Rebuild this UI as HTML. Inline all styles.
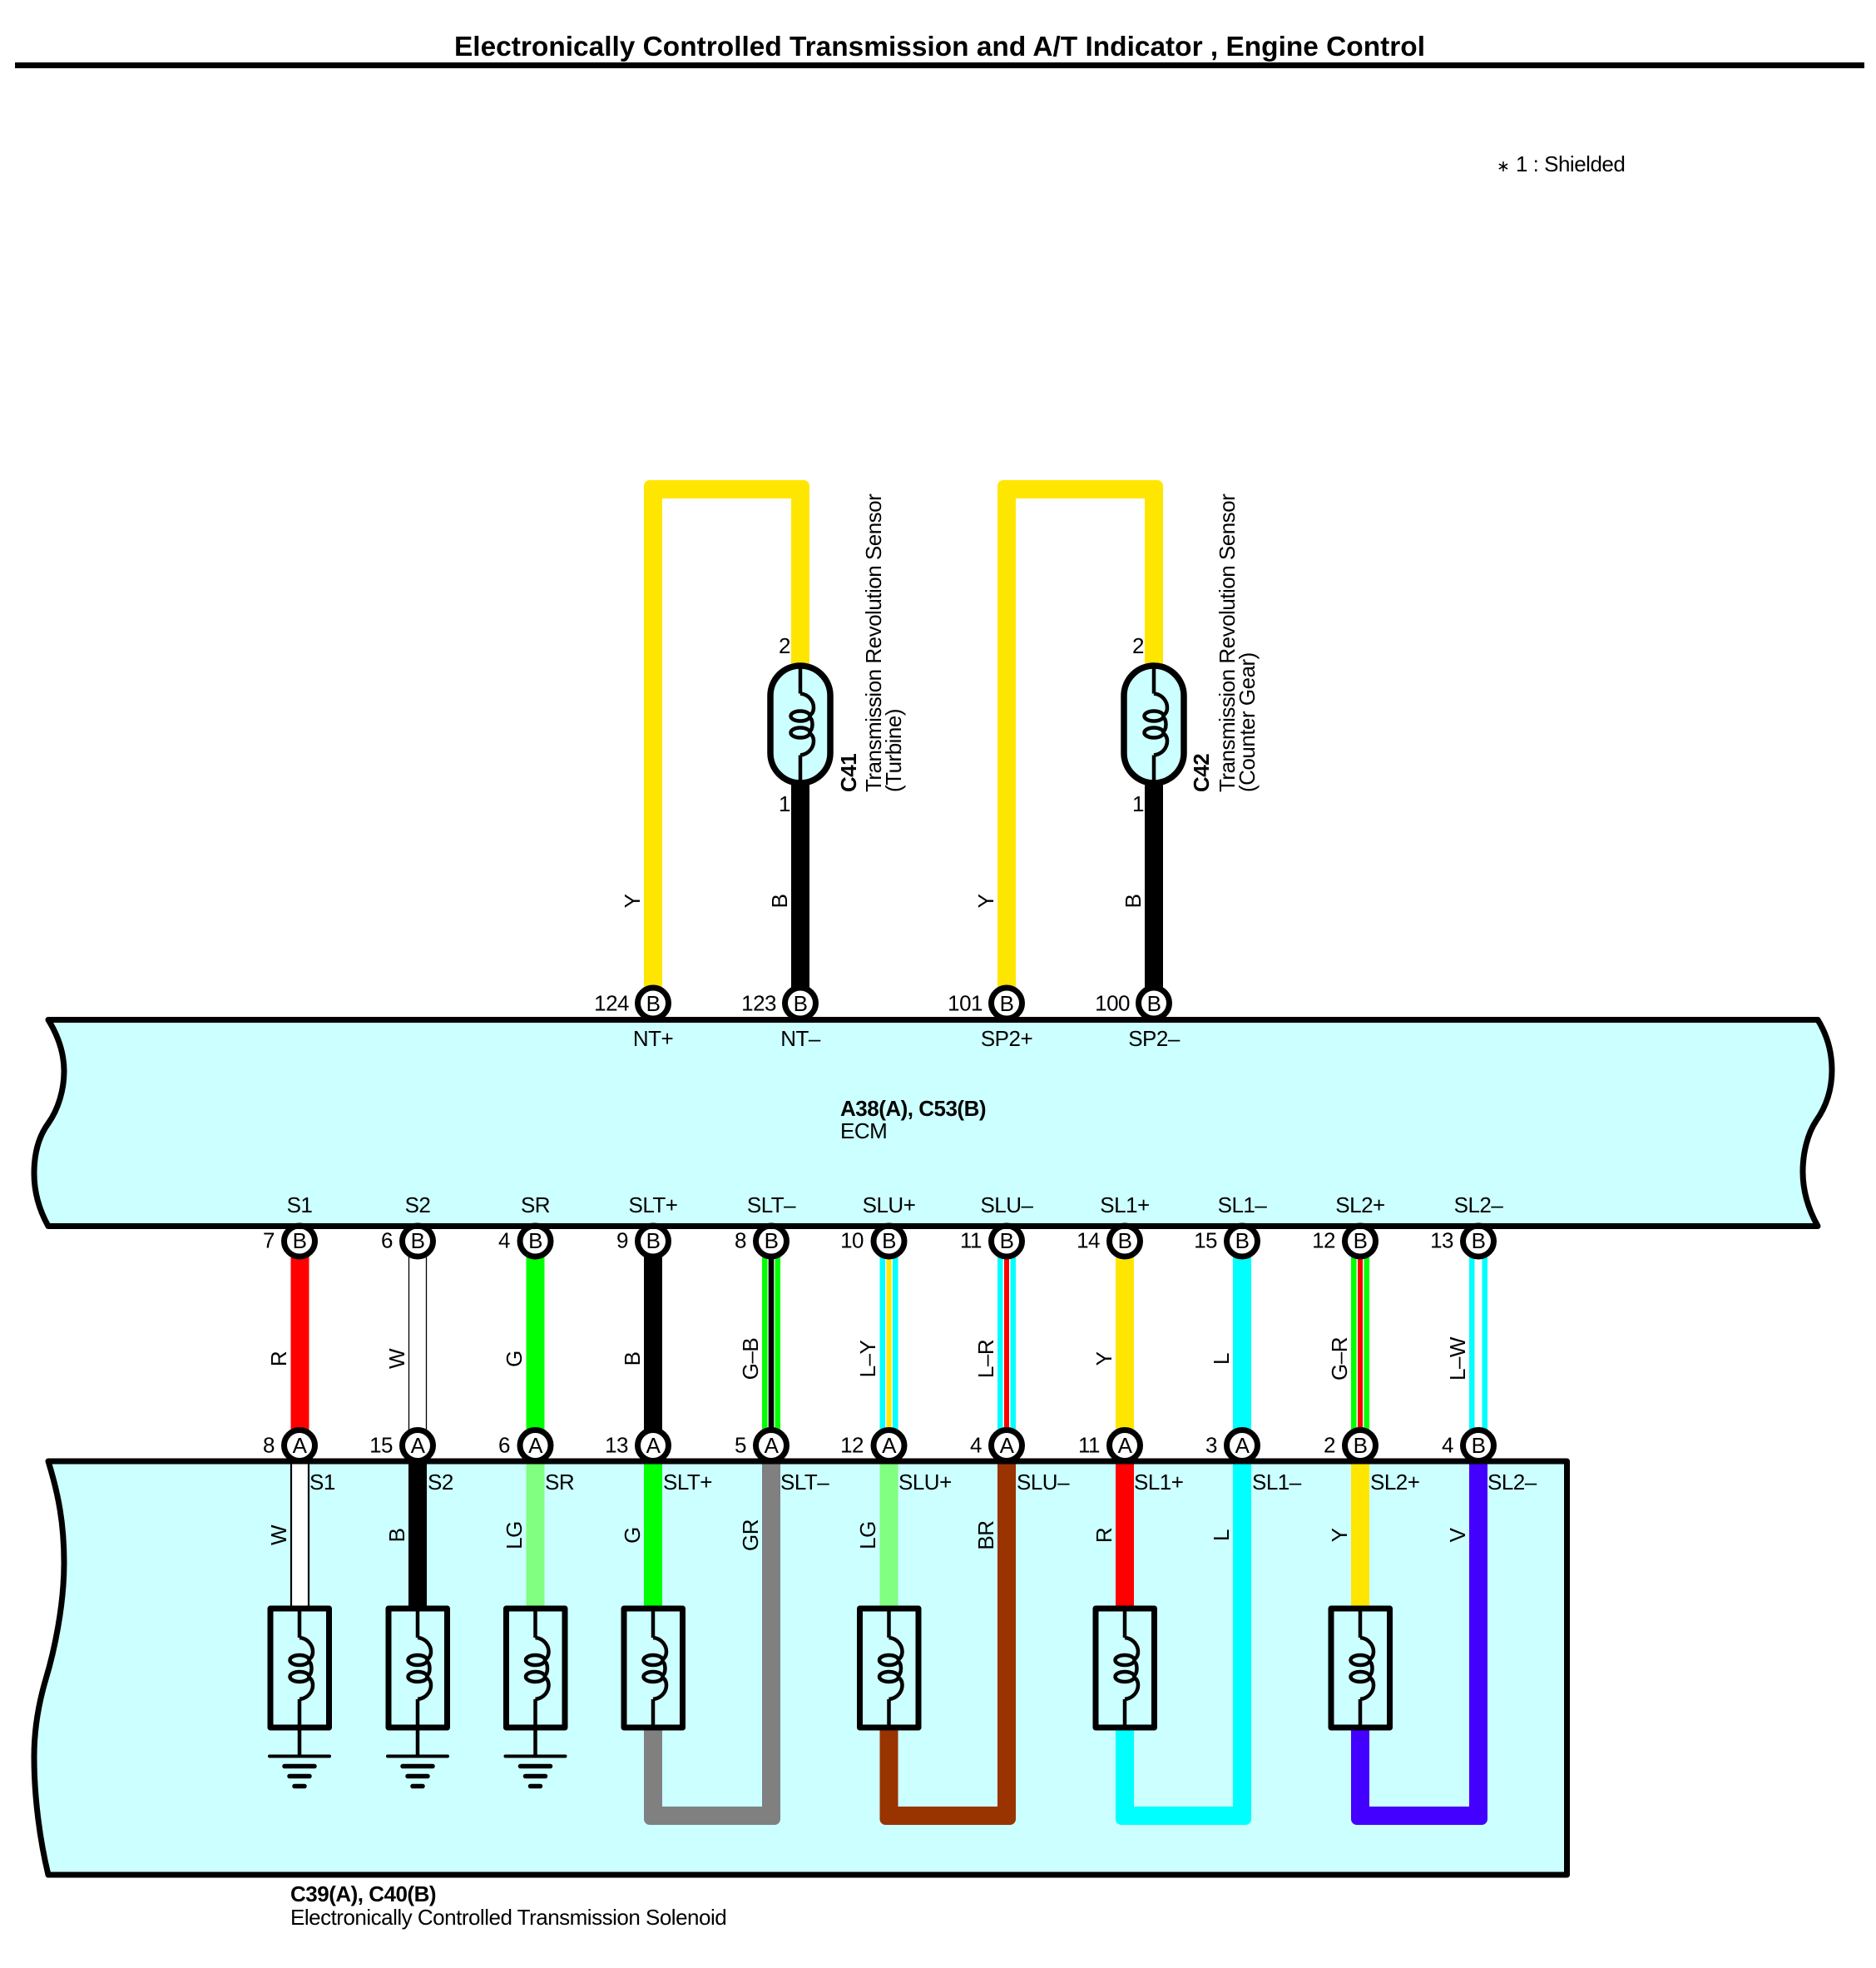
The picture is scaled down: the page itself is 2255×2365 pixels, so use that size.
<!DOCTYPE html>
<html><head><meta charset="utf-8"><title>Electronically Controlled Transmission and A/T Indicator, Engine Control</title>
<style>
html,body{margin:0;padding:0;background:#fff}
svg{display:block}
text{font-family:"Liberation Sans",sans-serif;font-size:26px;letter-spacing:-.5px;fill:#000}
.m{text-anchor:middle}.e{text-anchor:end}.b{font-weight:bold}
</style></head><body>
<svg width="2255" height="2365" viewBox="0 0 2255 2365" xmlns="http://www.w3.org/2000/svg">
<defs>
<g id="coil" fill="none" stroke="#000" stroke-width="4.500">
<path d="M0 -37C10 -36 16 -28 16 -20C16 -15 14 -12 10 -10M10 -10C16 -6 16 6 10 10M10 10C14 12 16 15 16 20C16 28 10 36 0 37"/>
<ellipse cx="0" cy="-10" rx="11.500" ry="6"/><ellipse cx="0" cy="10" rx="11.500" ry="6"/>
</g>
<g id="sol">
<rect x="-35" y="-72" width="70.500" height="143" fill="#ccffff" stroke="#000" stroke-width="7" stroke-linejoin="round"/>
<path d="M0 -72V-37M0 37V72" stroke="#000" stroke-width="4.500" fill="none"/>
<use href="#coil"/>
</g>
<g id="gnd" stroke="#000" stroke-linecap="round" fill="none">
<path d="M0 0V34" stroke-width="4.500"/>
<path d="M-36 34.500H36" stroke-width="4"/>
<path d="M-18 46.500H18" stroke-width="5.500"/>
<path d="M-12 58.500H12" stroke-width="5.500"/>
<path d="M-6 70.500H6" stroke-width="5.500"/>
</g>
<g id="sen">
<rect x="-36" y="-70.500" width="72" height="141" rx="36" ry="36" fill="#ccffff" stroke="#000" stroke-width="7.500"/>
<path d="M0 -73V-37M0 37V73" stroke="#000" stroke-width="4.500" fill="none"/>
<use href="#coil"/>
</g>
</defs>

<!-- title -->
<text class="b" x="546" y="67" style="font-size:33px;letter-spacing:0" textLength="1167" lengthAdjust="spacingAndGlyphs">Electronically Controlled Transmission and A/T Indicator , Engine Control</text>
<rect x="18" y="75" width="2223" height="7" fill="#000"/>
<text x="1799" y="206" style="font-size:19px">∗</text>
<text x="1822" y="206">1 : Shielded</text>

<!-- boxes -->
<path d="M58 1225.500H2185C2197 1245 2202 1265 2202 1286C2202 1310 2195 1330 2183 1347C2173 1362 2167 1385 2167 1408C2167 1430 2173 1452 2185 1473.500H58C46 1452 41 1430 41 1410C41 1385 47 1365 58 1350C70 1333 77 1310 77 1287C77 1265 70 1245 58 1225.500Z" fill="#ccffff" stroke="#000" stroke-width="7" stroke-linejoin="round"/>
<path d="M58 1756H1883.500V2253H58C48 2212 41 2160 41 2111C41 2075 47 2045 55 2018C65 1985 77 1930 77 1878C77 1830 70 1795 58 1756Z" fill="#ccffff" stroke="#000" stroke-width="7" stroke-linejoin="round"/>

<!-- top loops -->
<path d="M774 1205V584a7 7 0 0 1 7 -7H966a7 7 0 0 1 7 7V800H951V599H796V1205Z" fill="#ffe600"/>
<path d="M1199 1205V584a7 7 0 0 1 7 -7H1391a7 7 0 0 1 7 7V800H1376V599H1221V1205Z" fill="#ffe600"/>
<rect x="951" y="940" width="22" height="265" fill="#000"/>
<rect x="1376" y="940" width="22" height="265" fill="#000"/>
<use href="#sen" x="962" y="870.500"/>
<use href="#sen" x="1387" y="870.500"/>

<!-- middle wires -->
<rect x="349.500" y="1492" width="22" height="245" fill="#f00"/>
<rect x="491.500" y="1492" width="21" height="245" fill="#fff" stroke="#000" stroke-width="1.300"/>
<rect x="632.500" y="1492" width="22" height="245" fill="#0f0"/>
<rect x="774" y="1492" width="22" height="245" fill="#000"/>
<rect x="916" y="1492" width="22" height="245" fill="#0f0"/><rect x="922.500" y="1492" width="9" height="245" fill="#fff"/><rect x="923.700" y="1492" width="6.600" height="245" fill="#000"/>
<rect x="1057.500" y="1492" width="22" height="245" fill="#0ff"/><rect x="1064" y="1492" width="9" height="245" fill="#fff"/><rect x="1065.500" y="1492" width="6" height="245" fill="#ffe600"/>
<rect x="1199" y="1492" width="22" height="245" fill="#0ff"/><rect x="1205.500" y="1492" width="9" height="245" fill="#fff"/><rect x="1207" y="1492" width="6" height="245" fill="#f00"/>
<rect x="1341" y="1492" width="22" height="245" fill="#ffe600"/>
<rect x="1482" y="1492" width="22" height="245" fill="#0ff"/>
<rect x="1624" y="1492" width="22" height="245" fill="#0f0"/><rect x="1630.500" y="1492" width="9" height="245" fill="#fff"/><rect x="1632" y="1492" width="6" height="245" fill="#f00"/>
<rect x="1766" y="1492" width="22" height="245" fill="#0ff"/><rect x="1772.500" y="1492" width="9" height="245" fill="#fff"/>

<!-- lower wires -->
<rect x="350" y="1756" width="21" height="180" fill="#fff" stroke="#000" stroke-width="2.200"/>
<rect x="491" y="1756" width="22" height="180" fill="#000"/>
<rect x="632.500" y="1756" width="22" height="180" fill="#80ff80"/>
<rect x="774" y="1756" width="22" height="180" fill="#0f0"/>
<rect x="1057.500" y="1756" width="22" height="180" fill="#80ff80"/>
<rect x="1341" y="1756" width="22" height="180" fill="#f00"/>
<rect x="1624" y="1756" width="22" height="180" fill="#ffe600"/>
<!-- loops -->
<path d="M774 2070V2186a7 7 0 0 0 7 7H931a7 7 0 0 0 7 -7V1756H916V2171H796V2070Z" fill="#808080"/>
<path d="M1057.500 2070V2186a7 7 0 0 0 7 7H1214a7 7 0 0 0 7 -7V1756H1199V2171H1079.500V2070Z" fill="#993300"/>
<path d="M1341 2070V2186a7 7 0 0 0 7 7H1497a7 7 0 0 0 7 -7V1756H1482V2171H1363V2070Z" fill="#0ff"/>
<path d="M1624 2070V2186a7 7 0 0 0 7 7H1781a7 7 0 0 0 7 -7V1756H1766V2171H1646V2070Z" fill="#4400ff"/>

<!-- solenoids -->
<use href="#gnd" x="360" y="2076"/><use href="#gnd" x="502" y="2076"/><use href="#gnd" x="643.500" y="2076"/>
<use href="#sol" x="360" y="2005"/><use href="#sol" x="502" y="2005"/><use href="#sol" x="643.500" y="2005"/><use href="#sol" x="785" y="2005"/><use href="#sol" x="1068.500" y="2005"/><use href="#sol" x="1352" y="2005"/><use href="#sol" x="1635" y="2005"/>

<!-- pins -->
<g fill="#fff" stroke="#000" stroke-width="7">
<circle cx="785" cy="1205.500" r="18.500"/><circle cx="962" cy="1205.500" r="18.500"/><circle cx="1210" cy="1205.500" r="18.500"/><circle cx="1387" cy="1205.500" r="18.500"/>
<circle cx="360" cy="1491.500" r="18.500"/><circle cx="502" cy="1491.500" r="18.500"/><circle cx="643.500" cy="1491.500" r="18.500"/><circle cx="785" cy="1491.500" r="18.500"/><circle cx="927" cy="1491.500" r="18.500"/><circle cx="1068.500" cy="1491.500" r="18.500"/><circle cx="1210" cy="1491.500" r="18.500"/><circle cx="1352" cy="1491.500" r="18.500"/><circle cx="1493" cy="1491.500" r="18.500"/><circle cx="1635" cy="1491.500" r="18.500"/><circle cx="1777" cy="1491.500" r="18.500"/>
<circle cx="360" cy="1737" r="18.500"/><circle cx="502" cy="1737" r="18.500"/><circle cx="643.500" cy="1737" r="18.500"/><circle cx="785" cy="1737" r="18.500"/><circle cx="927" cy="1737" r="18.500"/><circle cx="1068.500" cy="1737" r="18.500"/><circle cx="1210" cy="1737" r="18.500"/><circle cx="1352" cy="1737" r="18.500"/><circle cx="1493" cy="1737" r="18.500"/><circle cx="1635" cy="1737" r="18.500"/><circle cx="1777" cy="1737" r="18.500"/>
</g>
<!-- bus lines over pins -->
<rect x="58" y="1222" width="2127" height="7" fill="#000"/>
<rect x="58" y="1470" width="2127" height="7" fill="#000"/>
<rect x="58" y="1752.500" width="1825" height="7" fill="#000"/>

<!-- pin letters -->
<g>
<text class="m" x="785" y="1215">B</text><text class="m" x="962" y="1215">B</text><text class="m" x="1210" y="1215">B</text><text class="m" x="1387" y="1215">B</text>
<text class="m" x="360" y="1500">B</text><text class="m" x="502" y="1500">B</text><text class="m" x="643.500" y="1500">B</text><text class="m" x="785" y="1500">B</text><text class="m" x="927" y="1500">B</text><text class="m" x="1068.500" y="1500">B</text><text class="m" x="1210" y="1500">B</text><text class="m" x="1352" y="1500">B</text><text class="m" x="1493" y="1500">B</text><text class="m" x="1635" y="1500">B</text><text class="m" x="1777" y="1500">B</text>
<text class="m" x="360" y="1746">A</text><text class="m" x="502" y="1746">A</text><text class="m" x="643.500" y="1746">A</text><text class="m" x="785" y="1746">A</text><text class="m" x="927" y="1746">A</text><text class="m" x="1068.500" y="1746">A</text><text class="m" x="1210" y="1746">A</text><text class="m" x="1352" y="1746">A</text><text class="m" x="1493" y="1746">A</text><text class="m" x="1635" y="1746">B</text><text class="m" x="1777" y="1746">B</text>
</g>

<!-- pin numbers -->
<text class="e" x="756" y="1214.500">124</text><text class="e" x="933" y="1214.500">123</text><text class="e" x="1181" y="1214.500">101</text><text class="e" x="1358" y="1214.500">100</text>
<text class="e" x="330" y="1499.500">7</text><text class="e" x="472" y="1499.500">6</text><text class="e" x="613" y="1499.500">4</text><text class="e" x="755" y="1499.500">9</text><text class="e" x="897" y="1499.500">8</text><text class="e" x="1038" y="1499.500">10</text><text class="e" x="1180" y="1499.500">11</text><text class="e" x="1322" y="1499.500">14</text><text class="e" x="1463" y="1499.500">15</text><text class="e" x="1605" y="1499.500">12</text><text class="e" x="1747" y="1499.500">13</text>
<text class="e" x="330" y="1745.500">8</text><text class="e" x="472" y="1745.500">15</text><text class="e" x="613" y="1745.500">6</text><text class="e" x="755" y="1745.500">13</text><text class="e" x="897" y="1745.500">5</text><text class="e" x="1038" y="1745.500">12</text><text class="e" x="1180" y="1745.500">4</text><text class="e" x="1322" y="1745.500">11</text><text class="e" x="1463" y="1745.500">3</text><text class="e" x="1605" y="1745.500">2</text><text class="e" x="1747" y="1745.500">4</text>
<text class="e" x="950" y="785">2</text><text class="e" x="950" y="975">1</text><text class="e" x="1375" y="785">2</text><text class="e" x="1375" y="975">1</text>

<!-- ECM terminal labels -->
<text class="m" x="785" y="1257">NT+</text><text class="m" x="962" y="1257">NT–</text><text class="m" x="1210" y="1257">SP2+</text><text class="m" x="1387" y="1257">SP2–</text>
<text class="m" x="360" y="1457">S1</text><text class="m" x="502" y="1457">S2</text><text class="m" x="643.500" y="1457">SR</text><text class="m" x="785" y="1457">SLT+</text><text class="m" x="927" y="1457">SLT–</text><text class="m" x="1068.500" y="1457">SLU+</text><text class="m" x="1210" y="1457">SLU–</text><text class="m" x="1352" y="1457">SL1+</text><text class="m" x="1493" y="1457">SL1–</text><text class="m" x="1635" y="1457">SL2+</text><text class="m" x="1777" y="1457">SL2–</text>

<!-- solenoid terminal labels -->
<text x="372" y="1790">S1</text><text x="514" y="1790">S2</text><text x="655" y="1790">SR</text><text x="797" y="1790">SLT+</text><text x="938" y="1790">SLT–</text><text x="1080" y="1790">SLU+</text><text x="1222" y="1790">SLU–</text><text x="1363" y="1790">SL1+</text><text x="1505" y="1790">SL1–</text><text x="1647" y="1790">SL2+</text><text x="1788" y="1790">SL2–</text>

<!-- component labels -->
<text class="b" x="1010" y="1341">A38(A), C53(B)</text>
<text x="1010" y="1368">ECM</text>
<text class="b" x="349" y="2285">C39(A), C40(B)</text>
<text x="349" y="2313">Electronically Controlled Transmission Solenoid</text>
<text class="b" transform="translate(1029 952) rotate(-90)">C41</text>
<text transform="translate(1059 952) rotate(-90)">Transmission Revolution Sensor</text>
<text transform="translate(1083 952) rotate(-90)">(Turbine)</text>
<text class="b" transform="translate(1453 952) rotate(-90)">C42</text>
<text transform="translate(1484 952) rotate(-90)">Transmission Revolution Sensor</text>
<text transform="translate(1508 952) rotate(-90)">(Counter Gear)</text>

<!-- wire colour labels -->
<text class="m" transform="translate(769 1083) rotate(-90)">Y</text>
<text class="m" transform="translate(946 1083) rotate(-90)">B</text>
<text class="m" transform="translate(1194 1083) rotate(-90)">Y</text>
<text class="m" transform="translate(1371 1083) rotate(-90)">B</text>

<text class="m" transform="translate(344 1633) rotate(-90)">R</text>
<text class="m" transform="translate(486 1633) rotate(-90)">W</text>
<text class="m" transform="translate(627 1633) rotate(-90)">G</text>
<text class="m" transform="translate(769 1633) rotate(-90)">B</text>
<text class="m" transform="translate(911 1633) rotate(-90)">G–B</text>
<text class="m" transform="translate(1052 1633) rotate(-90)">L–Y</text>
<text class="m" transform="translate(1194 1633) rotate(-90)">L–R</text>
<text class="m" transform="translate(1336 1633) rotate(-90)">Y</text>
<text class="m" transform="translate(1477 1633) rotate(-90)">L</text>
<text class="m" transform="translate(1619 1633) rotate(-90)">G–R</text>
<text class="m" transform="translate(1761 1633) rotate(-90)">L–W</text>

<text class="m" transform="translate(344 1845) rotate(-90)">W</text>
<text class="m" transform="translate(486 1845) rotate(-90)">B</text>
<text class="m" transform="translate(627 1845) rotate(-90)">LG</text>
<text class="m" transform="translate(769 1845) rotate(-90)">G</text>
<text class="m" transform="translate(911 1845) rotate(-90)">GR</text>
<text class="m" transform="translate(1052 1845) rotate(-90)">LG</text>
<text class="m" transform="translate(1194 1845) rotate(-90)">BR</text>
<text class="m" transform="translate(1336 1845) rotate(-90)">R</text>
<text class="m" transform="translate(1477 1845) rotate(-90)">L</text>
<text class="m" transform="translate(1619 1845) rotate(-90)">Y</text>
<text class="m" transform="translate(1761 1845) rotate(-90)">V</text>
</svg>
</body></html>
